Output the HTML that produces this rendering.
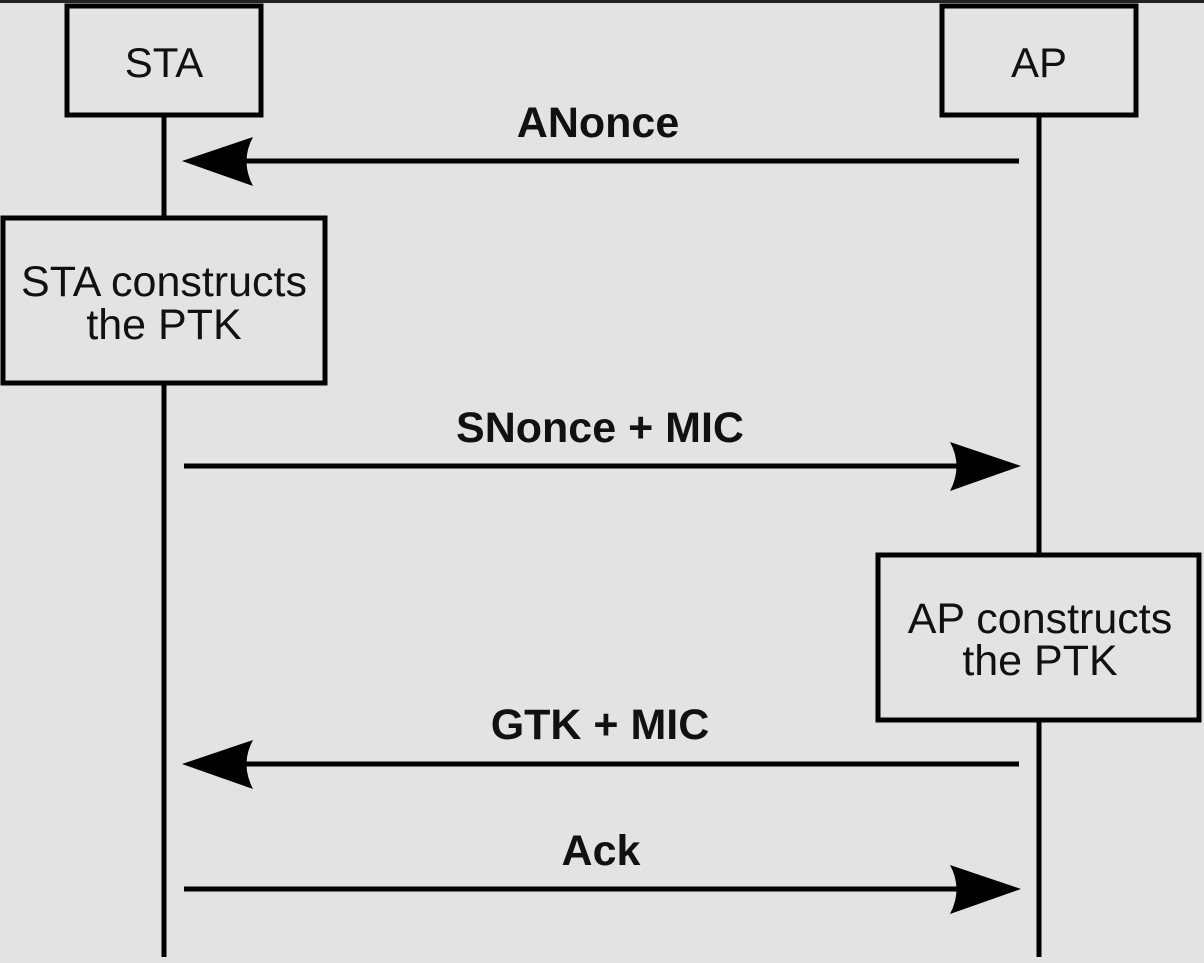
<!DOCTYPE html>
<html><head><style>
html,body{margin:0;padding:0;background:#e3e3e3;}
svg{display:block}
</style></head><body>
<svg width="1204" height="963" viewBox="0 0 1204 963" xmlns="http://www.w3.org/2000/svg">
<rect width="1204" height="963" fill="#e3e3e3"/>
<rect width="1204" height="3" fill="#222"/>
<g stroke="#000" stroke-width="5" fill="none">
<line x1="164" y1="116" x2="164" y2="957"/>
<line x1="1039" y1="116" x2="1039" y2="957"/>
</g>
<g stroke="#000" stroke-width="5" fill="#e3e3e3">
<rect x="67" y="6" width="194" height="109"/>
<rect x="942" y="6" width="194" height="109"/>
<rect x="3" y="218" width="322" height="165"/>
<rect x="878" y="555" width="321" height="165"/>
</g>
<g stroke="#000" stroke-width="5">
<line x1="1019" y1="161" x2="240" y2="161"/>
<line x1="184" y1="466" x2="965" y2="466"/>
<line x1="1019" y1="764" x2="240" y2="764"/>
<line x1="184" y1="889" x2="965" y2="889"/>
</g>
<g fill="#000">
<path d="M182 161 L253 137 Q240 161 253 186 Z"/>
<path d="M1021 466 L950 442 Q963 466 950 491 Z"/>
<path d="M182 764 L253 740 Q240 764 253 789 Z"/>
<path d="M1021 889 L950 865 Q963 889 950 914 Z"/>
</g>
<g font-family="Liberation Sans, sans-serif" text-anchor="middle" fill="#111">
<text x="164" y="77" font-size="42">STA</text>
<text x="1039" y="77" font-size="42">AP</text>
<text x="164" y="296" font-size="43">STA constructs</text>
<text x="164" y="339" font-size="43">the PTK</text>
<text x="1040" y="633" font-size="43">AP constructs</text>
<text x="1040" y="675" font-size="43">the PTK</text>
<g font-weight="bold" font-size="43">
<text x="598" y="137">ANonce</text>
<text x="600" y="442">SNonce + MIC</text>
<text x="600" y="739">GTK + MIC</text>
<text x="601" y="865">Ack</text>
</g>
</g>
</svg>
</body></html>
